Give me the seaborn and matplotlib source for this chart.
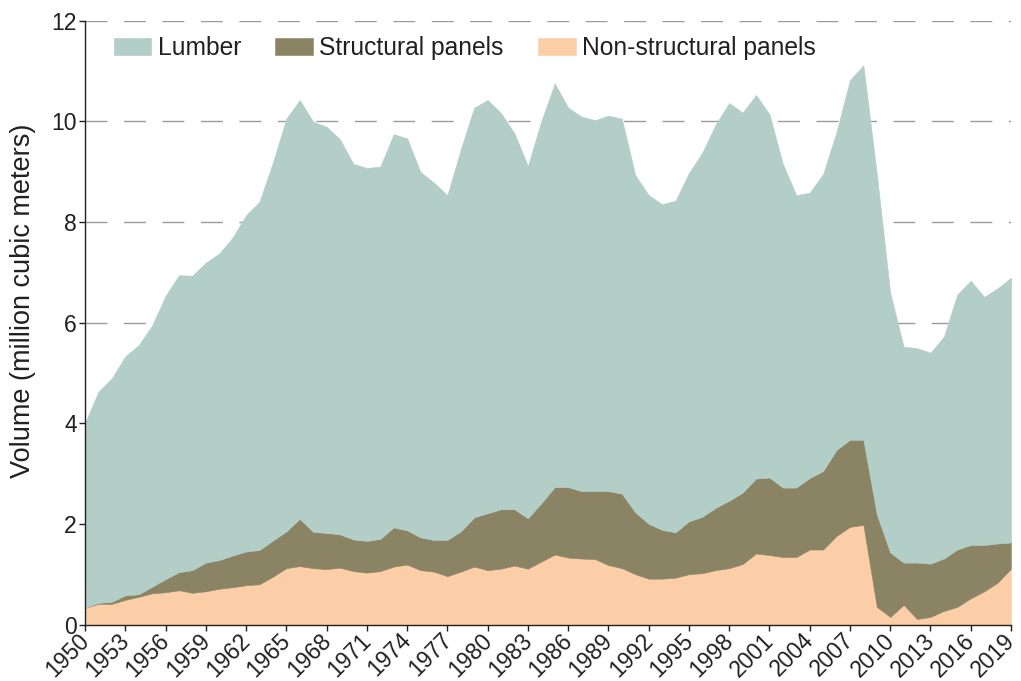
import numpy as np
import pandas as pd
import matplotlib
matplotlib.use("Agg")
import matplotlib.pyplot as plt
import matplotlib.transforms as mtransforms
import seaborn as sns

years = list(range(1950, 2020))

lumber = [3.67, 4.20, 4.44, 4.75, 4.95, 5.19, 5.63, 5.90, 5.85, 5.96,
          6.09, 6.32, 6.68, 6.92, 7.51, 8.20, 8.32, 8.15, 8.07, 7.85,
          7.46, 7.41, 7.40, 7.81, 7.79, 7.26, 7.10, 6.85, 7.59, 8.14,
          8.21, 7.87, 7.47, 7.00, 7.59, 8.02, 7.54, 7.44, 7.37, 7.46,
          7.45, 6.70, 6.53, 6.47, 6.59, 6.92, 7.24, 7.62, 7.90, 7.55,
          7.62, 7.22, 6.43, 5.81, 5.67, 5.90, 6.32, 7.15, 7.44, 6.76,
          5.16, 4.29, 4.26, 4.19, 4.41, 5.07, 5.25, 4.93, 5.07, 5.26]

structural = [0.00, 0.02, 0.04, 0.09, 0.05, 0.13, 0.26, 0.36, 0.45, 0.57,
              0.57, 0.63, 0.67, 0.68, 0.72, 0.73, 0.94, 0.72, 0.72, 0.66,
              0.63, 0.63, 0.64, 0.78, 0.68, 0.65, 0.63, 0.72, 0.80, 0.98,
              1.13, 1.18, 1.12, 1.00, 1.16, 1.34, 1.40, 1.34, 1.35, 1.47,
              1.48, 1.23, 1.09, 0.97, 0.90, 1.05, 1.12, 1.24, 1.34, 1.42,
              1.49, 1.54, 1.38, 1.38, 1.42, 1.56, 1.71, 1.73, 1.69, 1.84,
              1.28, 0.84, 1.12, 1.06, 1.04, 1.14, 1.06, 0.92, 0.78, 0.52]

non_structural = [0.33, 0.41, 0.41, 0.49, 0.55, 0.62, 0.64, 0.68, 0.63, 0.66,
                  0.71, 0.74, 0.78, 0.80, 0.95, 1.12, 1.16, 1.12, 1.10, 1.13,
                  1.06, 1.03, 1.06, 1.15, 1.19, 1.08, 1.05, 0.96, 1.05, 1.15,
                  1.08, 1.11, 1.17, 1.11, 1.25, 1.39, 1.33, 1.31, 1.30, 1.18,
                  1.12, 1.00, 0.91, 0.91, 0.93, 1.00, 1.02, 1.08, 1.12, 1.20,
                  1.41, 1.38, 1.34, 1.34, 1.49, 1.49, 1.76, 1.94, 1.98, 0.35,
                  0.15, 0.39, 0.11, 0.15, 0.27, 0.35, 0.52, 0.66, 0.83, 1.11]

series_names = ["Lumber", "Structural panels", "Non-structural panels"]
colors = {"Lumber": "#b3cdc7", "Structural panels": "#8a8464",
          "Non-structural panels": "#fbcea7"}
x_ticks = list(range(1950, 2020, 3))
y_ticks = [0, 2, 4, 6, 8, 10, 12]

df = pd.DataFrame({"Year": years, "Lumber": lumber,
                   "Structural panels": structural,
                   "Non-structural panels": non_structural})

sns.set_theme(style="ticks")
plt.rcParams["font.family"] = ["Liberation Sans", "DejaVu Sans"]
text_color = "#231f20"

fig = plt.figure(figsize=(10.21, 6.81), dpi=100)
ax = fig.add_axes([85 / 1021, 1 - 624.5 / 681, 926 / 1021, 604 / 681])

order = ["Non-structural panels", "Structural panels", "Lumber"]
polys = ax.stackplot(df["Year"], *[df[c] for c in order],
                     colors=[colors[c] for c in order], labels=order,
                     linewidth=0.4, zorder=2)
for p, c in zip(polys, order):
    p.set_edgecolor(colors[c])

ax.set_xlim(1950, 2019)
ax.set_ylim(0, 12)
ax.set_xticks(x_ticks)
ax.set_yticks(y_ticks)
ax.set_yticklabels([str(v) for v in y_ticks])

ax.set_axisbelow(True)
for v in y_ticks[1:]:
    ax.axhline(v, color="#9b9b9b", lw=1.0, linestyle=(0, (15.8, 11.9)), zorder=1)

sns.despine(ax=ax)
for s in ["left", "bottom"]:
    ax.spines[s].set_color(text_color)
    ax.spines[s].set_linewidth(1.0)
    ax.spines[s].set_zorder(3)

ax.tick_params(axis="both", direction="out", length=4, width=1.0,
               colors=text_color, labelsize=16.5, pad=2)
offset = mtransforms.ScaledTranslation(0.5 / 72, -3 / 72, fig.dpi_scale_trans)
for lab in ax.get_xticklabels():
    lab.set_rotation(45)
    lab.set_ha("right")
    lab.set_va("center")
    lab.set_rotation_mode("anchor")
    lab.set_transform(lab.get_transform() + offset)

ax.set_ylabel("Volume (million cubic meters)", fontsize=19.5, color=text_color,
              va="center")
ax.yaxis.set_label_coords(-0.067, 0.5356)

handles, labels = ax.get_legend_handles_labels()
hmap = dict(zip(labels, handles))
leg = ax.legend([hmap[n] for n in series_names], series_names,
                loc="center left", bbox_to_anchor=(0.0308, 0.9545),
                ncol=3, frameon=False, fontsize=17.7, borderpad=0,
                borderaxespad=0, handlelength=1.54, handleheight=0.71,
                handletextpad=0.25, columnspacing=1.40)
for t in leg.get_texts():
    t.set_color(text_color)

fig.savefig("out.png", dpi=100)
